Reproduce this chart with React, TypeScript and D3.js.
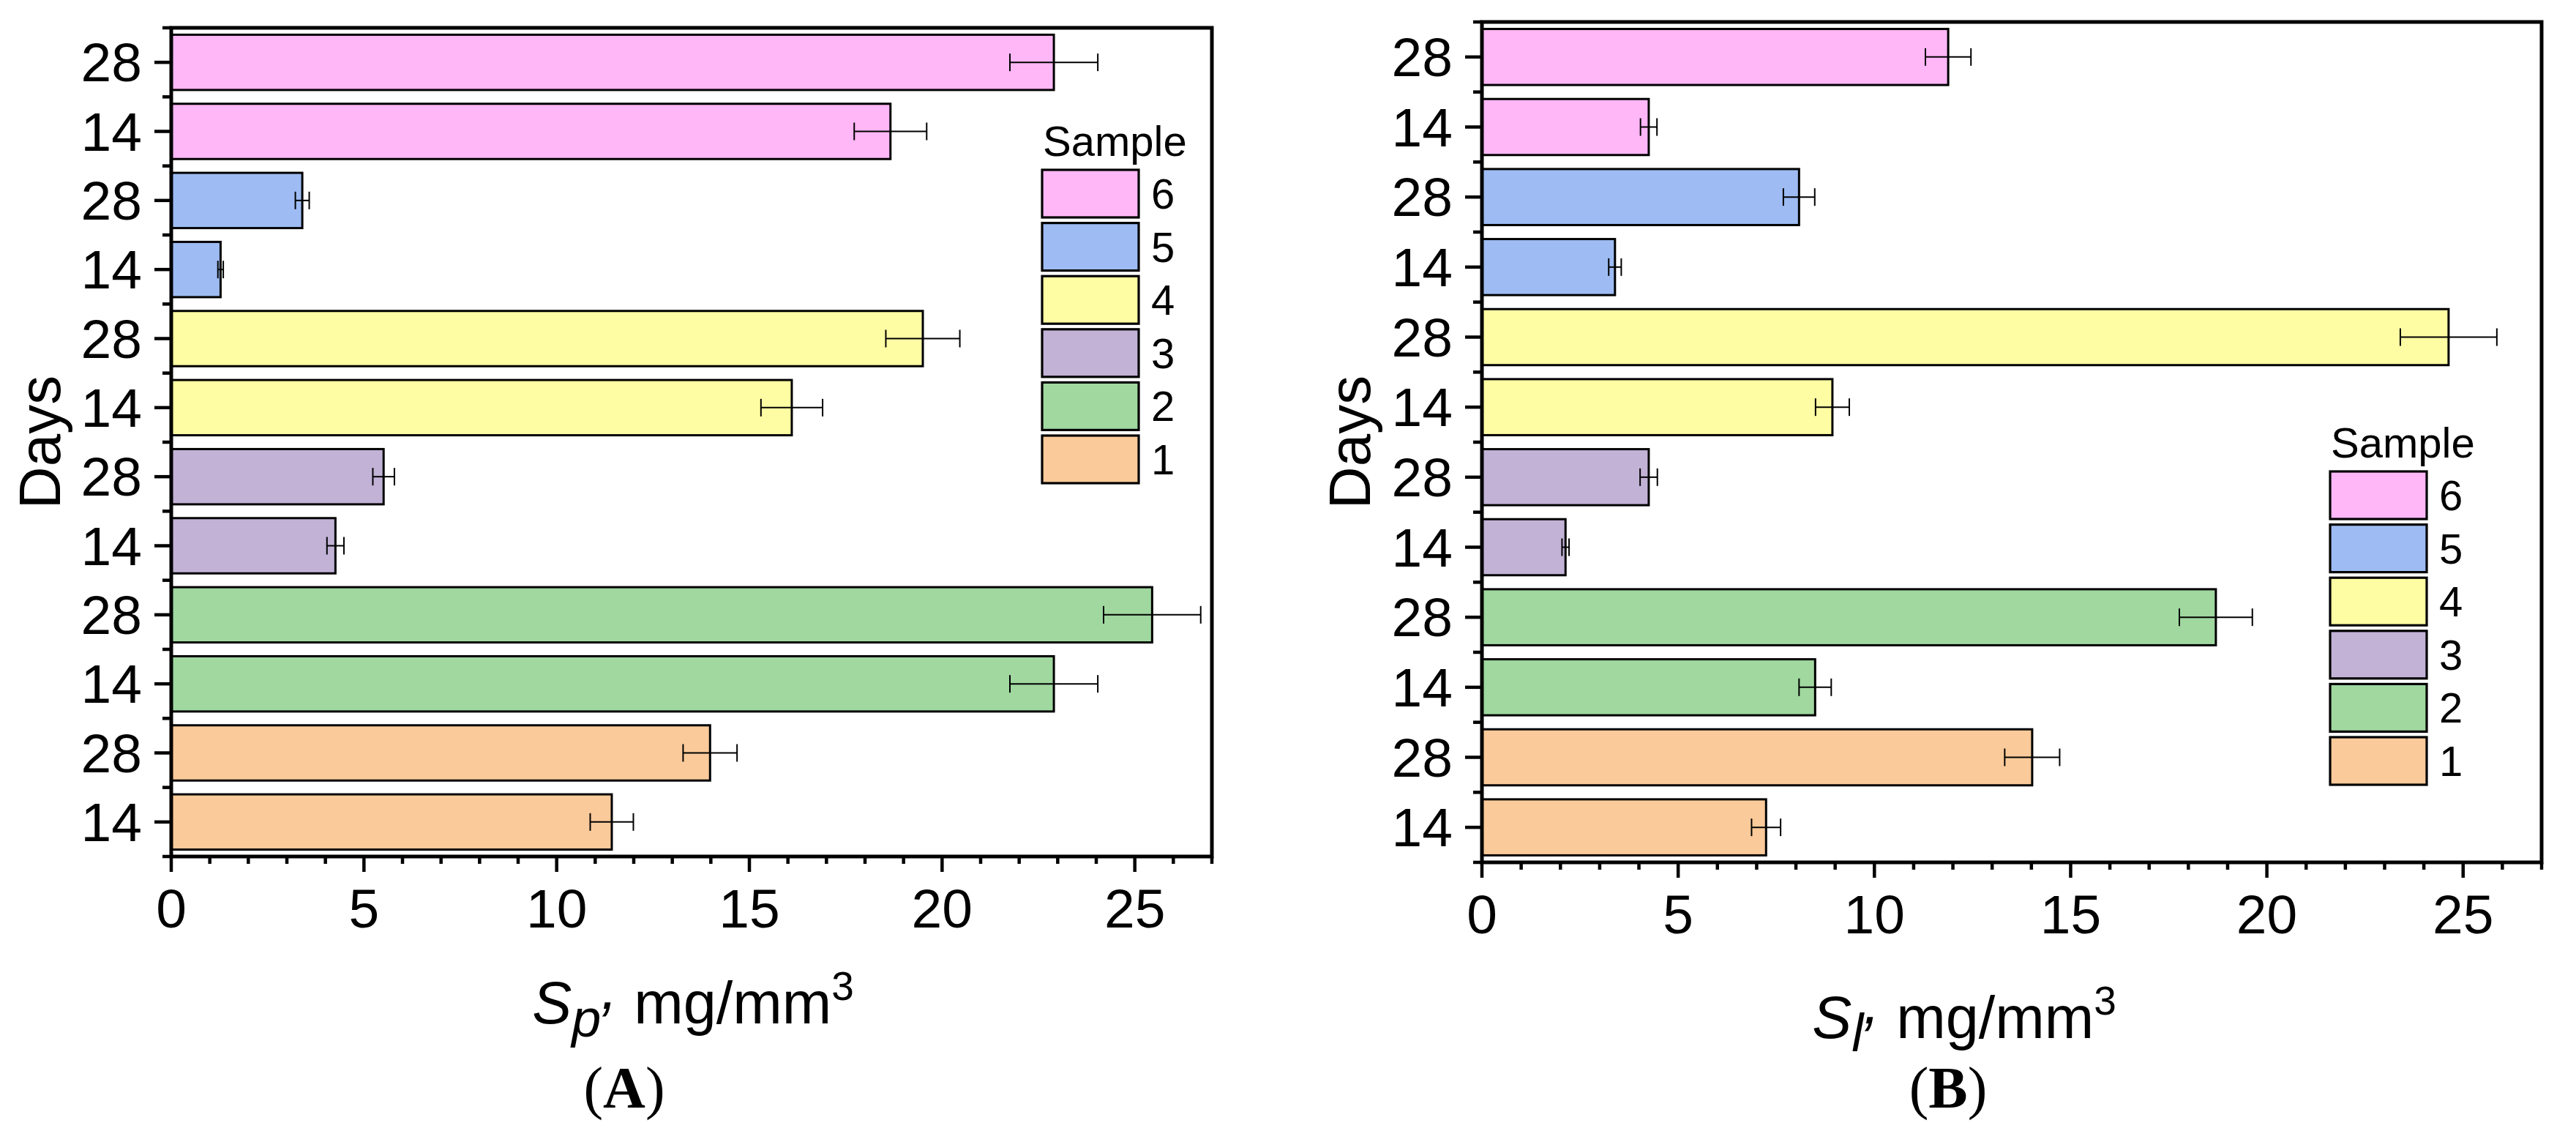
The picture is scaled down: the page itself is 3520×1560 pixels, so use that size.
import React from 'react';
import * as d3 from 'd3';

const samples = ['1', '2', '3', '4', '5', '6'];
const days = ['14', '28'];
const sampleColors = ['#FBCA9A', '#A0D89F', '#C2B2D6', '#FFFDA3', '#9EBCF3', '#FFB7F7'];
const xMajorTicks = [0, 5, 10, 15, 20, 25];
const xDomain = [0, 27];

// Panel A: S_p
const spMean14 = [11.43, 22.9, 4.26, 16.1, 1.28, 18.66];
const spErr14 = [0.56, 1.14, 0.22, 0.8, 0.07, 0.94];
const spMean28 = [13.98, 25.45, 5.51, 19.5, 3.4, 22.9];
const spErr28 = [0.7, 1.26, 0.28, 0.96, 0.18, 1.14];

// Panel B: S_l
const slMean14 = [7.24, 8.49, 2.13, 8.93, 3.39, 4.25];
const slErr14 = [0.37, 0.41, 0.09, 0.43, 0.16, 0.21];
const slMean28 = [14.02, 18.7, 4.25, 24.63, 8.08, 11.88];
const slErr28 = [0.7, 0.93, 0.22, 1.23, 0.4, 0.58];

const SANS = '"Liberation Sans", Arial, sans-serif';
const SERIF = '"Liberation Serif", "Times New Roman", serif';

type PanelProps = {
  left: number; right: number; top: number; bottom: number;
  mean14: number[]; err14: number[]; mean28: number[]; err28: number[];
  sub: string; titleX: number; titleY: number;
  letter: string; letterX: number; letterY: number;
  daysX: number;
  legX: number; legY: number;
};

function Panel(p: PanelProps) {
  const x = d3.scaleLinear().domain(xDomain).range([p.left, p.right]);
  const rows: { key: string; day: string; si: number; mean: number; err: number }[] = [];
  samples.forEach((s, i) => {
    days.forEach((d) => {
      rows.push({
        key: `${s}-${d}`, day: d, si: i,
        mean: d === '14' ? p.mean14[i] : p.mean28[i],
        err: d === '14' ? p.err14[i] : p.err28[i],
      });
    });
  });
  const y = d3.scaleBand<string>().domain(rows.map((r) => r.key))
    .range([p.bottom, p.top]).paddingInner(0.2).paddingOuter(0.1);
  const step = y.step();
  const bw = y.bandwidth();
  const boundaries = d3.range(rows.length + 1).map((k) => p.top + k * step);
  const minorX = d3.range(xDomain[0], xDomain[1] + 1).filter((v) => v % 5 !== 0);
  const capH = 12;
  const midY = (p.top + p.bottom) / 2;

  return (
    <g>
      {rows.map((r) => (
        <rect key={r.key} x={x(0)} y={y(r.key)!} width={x(r.mean) - x(0)} height={bw}
          fill={sampleColors[r.si]} stroke="#000" strokeWidth={3} />
      ))}
      {rows.map((r) => {
        const cy = y(r.key)! + bw / 2;
        const x1 = x(r.mean - r.err);
        const x2 = x(r.mean + r.err);
        return (
          <g key={'e' + r.key} stroke="#000" strokeWidth={2}>
            <line x1={x1} x2={x2} y1={cy} y2={cy} />
            <line x1={x1} x2={x1} y1={cy - capH} y2={cy + capH} />
            <line x1={x2} x2={x2} y1={cy - capH} y2={cy + capH} />
          </g>
        );
      })}
      <rect x={p.left} y={p.top} width={p.right - p.left} height={p.bottom - p.top}
        fill="none" stroke="#000" strokeWidth={5} />
      {/* y ticks */}
      {boundaries.map((b, i) => (
        <line key={'ym' + i} x1={p.left - 12} x2={p.left} y1={b} y2={b} stroke="#000" strokeWidth={4.5} />
      ))}
      {rows.map((r) => {
        const cy = y(r.key)! + bw / 2;
        return (
          <g key={'yt' + r.key}>
            <line x1={p.left - 23} x2={p.left} y1={cy} y2={cy} stroke="#000" strokeWidth={4.5} />
            <text x={p.left - 40} y={cy + 26} textAnchor="end" fontFamily={SANS} fontSize={75}>{r.day}</text>
          </g>
        );
      })}
      {/* x ticks */}
      {minorX.map((v) => (
        <line key={'xm' + v} x1={x(v)} x2={x(v)} y1={p.bottom} y2={p.bottom + 10} stroke="#000" strokeWidth={4.5} />
      ))}
      {xMajorTicks.map((v) => (
        <g key={'xt' + v}>
          <line x1={x(v)} x2={x(v)} y1={p.bottom} y2={p.bottom + 21} stroke="#000" strokeWidth={4.5} />
          <text x={x(v)} y={p.bottom + 97} textAnchor="middle" fontFamily={SANS} fontSize={75}>{v}</text>
        </g>
      ))}
      {/* axis titles */}
      <text transform={`translate(${p.daysX},${midY}) rotate(-90)`} textAnchor="middle"
        fontFamily={SANS} fontSize={80}>Days</text>
      <text x={p.titleX} y={p.titleY} textAnchor="middle" fontFamily={SANS} fontSize={81}>
        <tspan fontStyle="italic">S</tspan>
        <tspan fontStyle="italic" fontSize={72} dy={18}>{p.sub}</tspan>
        <tspan fontStyle="italic" dy={-38}>,</tspan>
        <tspan dy={20}> mg/mm</tspan>
        <tspan fontSize={55} dy={-32}>3</tspan>
      </text>
      <text x={p.letterX} y={p.letterY} textAnchor="middle" fontFamily={SERIF} fontSize={80}>
        (<tspan fontWeight="bold">{p.letter}</tspan>)
      </text>
      {/* legend */}
      <text x={p.legX} y={p.legY} fontFamily={SANS} fontSize={58}>Sample</text>
      {samples.slice().reverse().map((s, k) => {
        const si = samples.length - 1 - k;
        const top = p.legY + 19 + k * 72.6;
        return (
          <g key={'lg' + s}>
            <rect x={p.legX - 1} y={top} width={132} height={65} fill={sampleColors[si]}
              stroke="#000" strokeWidth={3.2} />
            <text x={p.legX + 148} y={top + 53} fontFamily={SANS} fontSize={58}>{s}</text>
          </g>
        );
      })}
    </g>
  );
}

export default function App() {
  return (
    <div style={{ position: 'fixed', left: 0, top: 0 }}>
      <svg width={3520} height={1560} viewBox="0 0 3520 1560" style={{ display: 'block', background: '#fff' }}>
        <rect x={0} y={0} width={3520} height={1560} fill="#fff" />
        <Panel left={234} right={1656} top={38} bottom={1170}
          mean14={spMean14} err14={spErr14} mean28={spMean28} err28={spErr28}
          sub="p" titleX={947} titleY={1398} letter="A" letterX={853} letterY={1513}
          daysX={82} legX={1425} legY={213} />
        <Panel left={2025} right={3473} top={30} bottom={1178}
          mean14={slMean14} err14={slErr14} mean28={slMean28} err28={slErr28}
          sub="l" titleX={2684} titleY={1418} letter="B" letterX={2662} letterY={1513}
          daysX={1872} legX={3185} legY={625} />
      </svg>
    </div>
  );
}
